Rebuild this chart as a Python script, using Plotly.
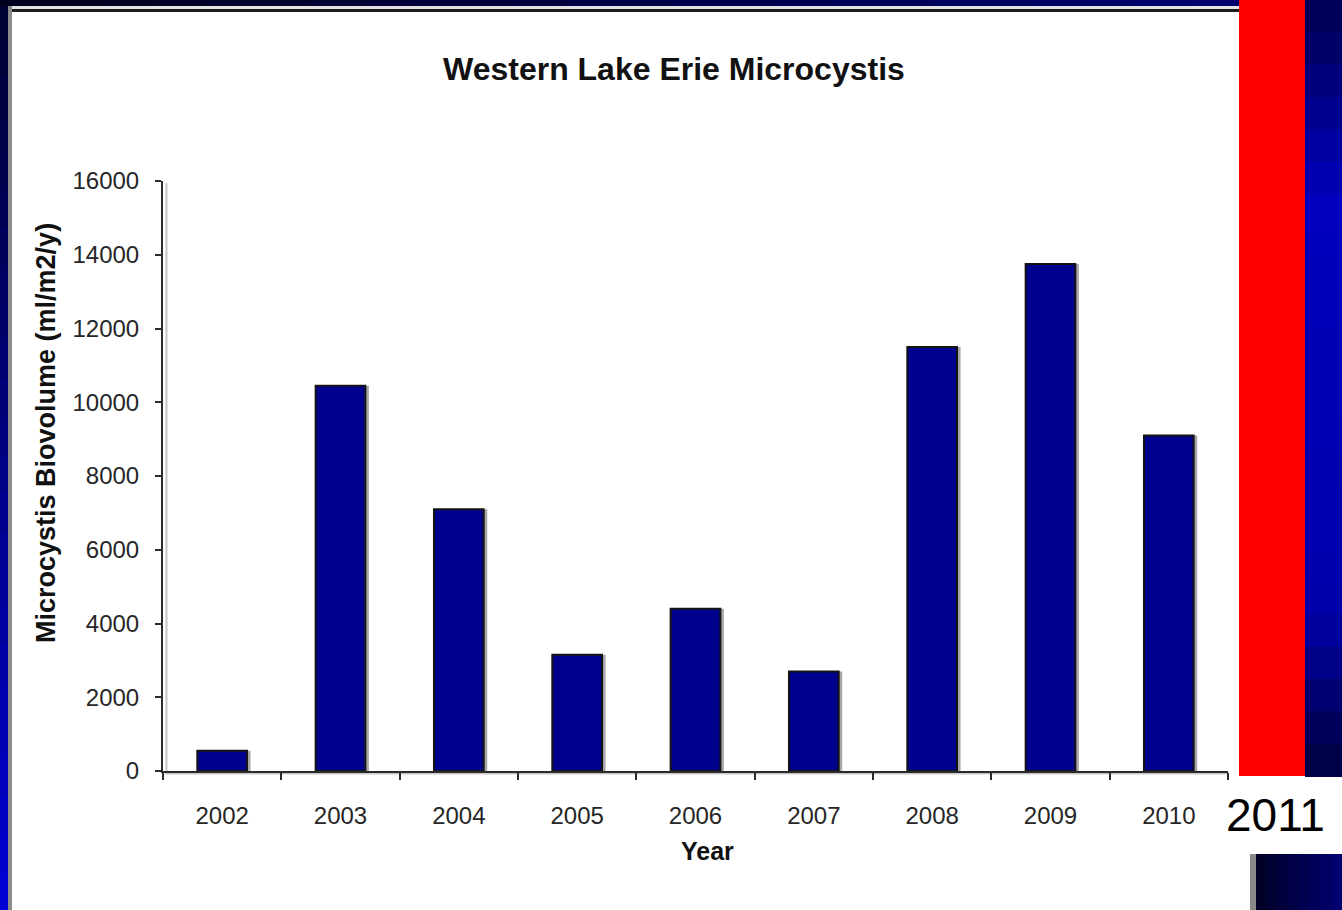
import plotly.graph_objects as go

# Annual Microcystis biovolume, western basin of Lake Erie
years = ["2002", "2003", "2004", "2005", "2006", "2007", "2008", "2009", "2010"]
biovolume = [550, 10450, 7100, 3150, 4400, 2700, 11500, 13750, 9100]

y_ticks = [0, 2000, 4000, 6000, 8000, 10000, 12000, 14000, 16000]

W, H = 1342, 910
L, R, T, B = 163, 1228, 181, 771  # plot-area edges in pixels


def px(x):
    return (x - L) / (R - L)


def py(y):
    return (B - y) / (B - T)


def rect(x0, y0, x1, y1, color, layer="below"):
    return dict(type="rect", xref="paper", yref="paper",
                x0=px(x0), x1=px(x1), y0=py(y1), y1=py(y0),
                fillcolor=color, line=dict(width=0), layer=layer)


def lerp(c0, c1, t):
    return "rgb({},{},{})".format(*[round(a + (b - a) * t) for a, b in zip(c0, c1)])


shapes = []

# slide frame: blue gradient strips around the white panel
n = 24
for i in range(n):
    t = i / (n - 1)
    # left strip, dark at top to bright blue at the bottom
    shapes.append(rect(0, i * H / n, 8, (i + 1) * H / n + 1,
                       lerp((0, 0, 50), (0, 0, 210), t)))
for i in range(n):
    t = i / (n - 1)
    # top strip, dark navy brightening to the right
    shapes.append(rect(i * 1239 / n, 0, (i + 1) * 1239 / n + 1, 6,
                       lerp((0, 0, 30), (0, 0, 110), t)))
for i in range(n):
    t = i / (n - 1)
    # right strip beside the red band
    if t < 0.25:
        c = lerp((0, 0, 90), (0, 0, 190), t / 0.25)
    elif t < 0.8:
        c = lerp((0, 0, 190), (0, 0, 170), (t - 0.25) / 0.55)
    else:
        c = lerp((0, 0, 170), (0, 0, 70), (t - 0.8) / 0.2)
    shapes.append(rect(1305, i * 776 / n, 1342, (i + 1) * 776 / n + 1, c))
for i in range(8):
    t = i / 7
    shapes.append(rect(1256 + i * 86 / 8, 854, 1256 + (i + 1) * 86 / 8 + 1, 910,
                       lerp((0, 0, 40), (0, 0, 110), t)))

# panel borders
shapes.append(rect(8, 6, 1239, 9, "#e2e2e2"))
shapes.append(rect(8, 9, 1239, 12, "#1c1c1c"))
shapes.append(rect(8, 6, 12, 910, "#8a8a8a"))
shapes.append(rect(1250, 854, 1256, 910, "#8a8a8a"))

# red band
shapes.append(rect(1239, 0, 1305, 776, "#ff0000"))

# soft shadow along the axis lines
shapes.append(dict(type="line", xref="paper", yref="paper",
                   x0=px(166.5), x1=px(166.5), y0=py(773), y1=py(183),
                   line=dict(color="#c8c8c8", width=2), layer="below"))
shapes.append(dict(type="line", xref="paper", yref="paper",
                   x0=px(165), x1=px(1229), y0=py(773.5), y1=py(773.5),
                   line=dict(color="#c8c8c8", width=2), layer="below"))

fig = go.Figure()

bar_w = 0.42
# drop shadow behind each bar
fig.add_trace(go.Bar(
    x=years, y=biovolume, width=bar_w, offset=-bar_w / 2 + 0.03,
    marker=dict(color="#a8a8a8", line=dict(width=0)),
    hoverinfo="skip", showlegend=False,
))
fig.add_trace(go.Bar(
    x=years, y=biovolume, width=bar_w, offset=-bar_w / 2,
    marker=dict(color="#00008e", line=dict(color="#141414", width=2)),
    showlegend=False,
))

tick_font = dict(family="Liberation Sans, Arial, sans-serif", size=24, color="#262626")

fig.update_layout(
    width=W, height=H, autosize=False,
    margin=dict(l=L, r=W - R, t=T, b=H - B, pad=0),
    paper_bgcolor="white", plot_bgcolor="white",
    barmode="overlay",
    shapes=shapes,
    xaxis=dict(
        type="category", range=[-0.5, len(years) - 0.5],
        tickson="boundaries", ticks="outside", ticklen=7, tickwidth=2,
        tickcolor="#2b2b2b", showline=True, linecolor="#2b2b2b", linewidth=2,
        showgrid=False, zeroline=False, tickfont=tick_font,
        ticklabelstandoff=22,
    ),
    yaxis=dict(
        range=[0, 16000], tickvals=y_ticks, ticktext=[str(v) for v in y_ticks],
        ticks="outside", ticklen=6, tickwidth=2, tickcolor="#2b2b2b",
        showline=True, linecolor="#2b2b2b", linewidth=2,
        showgrid=False, zeroline=False, tickfont=tick_font,
        ticklabelstandoff=11,
    ),
    annotations=[
        dict(text="<b>Western Lake Erie Microcystis</b>", xref="paper", yref="paper",
             x=px(674), y=py(69), showarrow=False, xanchor="center", yanchor="middle",
             font=dict(family="Liberation Sans, Arial, sans-serif", size=32, color="#111111")),
        dict(text="<b>Microcystis Biovolume (ml/m2/y)</b>", xref="paper", yref="paper",
             x=px(46), y=py(433), showarrow=False, textangle=-90,
             xanchor="center", yanchor="middle",
             font=dict(family="Liberation Sans, Arial, sans-serif", size=27, color="#111111")),
        dict(text="<b>Year</b>", xref="paper", yref="paper",
             x=px(707), y=py(851), showarrow=False, xanchor="center", yanchor="middle",
             font=dict(family="Liberation Sans, Arial, sans-serif", size=25, color="#111111")),
        dict(text="2011", xref="paper", yref="paper",
             x=px(1275), y=py(815), showarrow=False, xanchor="center", yanchor="middle",
             font=dict(family="Liberation Sans, Arial, sans-serif", size=46, color="#000000")),
    ],
)

fig.write_html("out.html")
